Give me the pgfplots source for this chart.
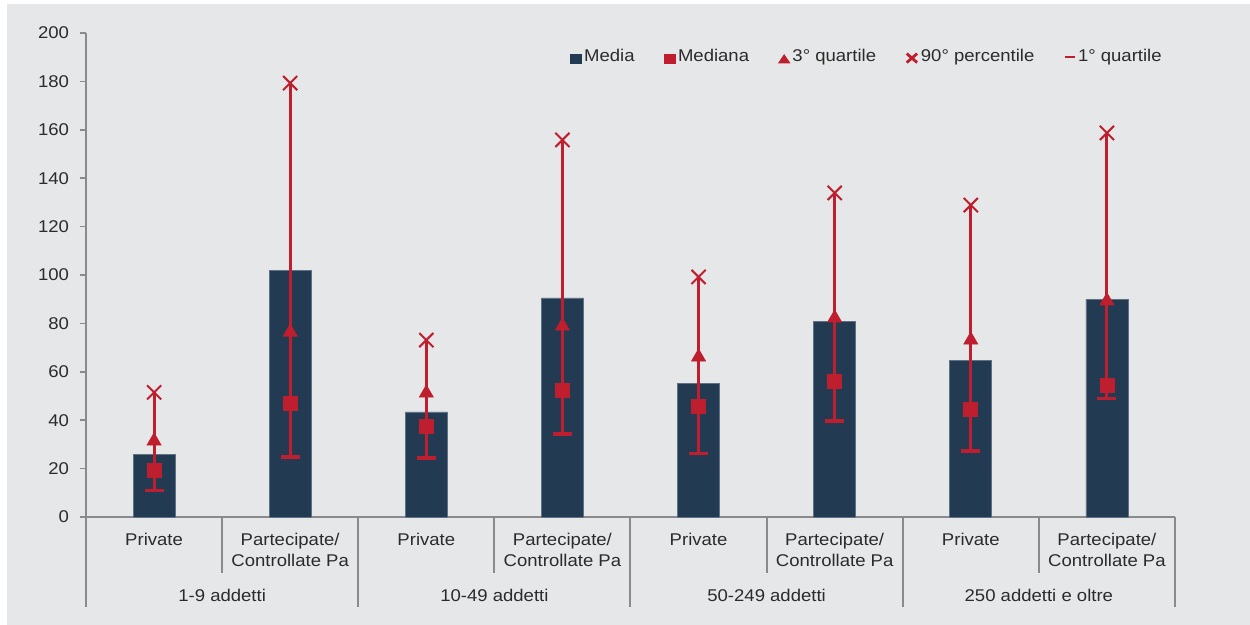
\documentclass[border=0pt]{standalone}
\usepackage{fontspec}
\setmainfont{Liberation Sans}[FakeStretch=1.09]
\usepackage{pgfplots}
\pgfplotsset{compat=1.18}
\definecolor{bg}{HTML}{E6E7E8}
\definecolor{navy}{HTML}{223A52}
\definecolor{navyedge}{HTML}{5E7185}
\definecolor{crim}{HTML}{BE1E2D}
\definecolor{axgray}{HTML}{8A8A8A}
\definecolor{txt}{HTML}{2B2B2B}
\newcommand{\lab}{\fontsize{8.5}{10.5}\selectfont\color{txt}}
\begin{document}
\begin{tikzpicture}
\fill[white] (0,0) rectangle (625pt,312.5pt);
\fill[bg] (3.5pt,0) rectangle (625pt,310.5pt);
\begin{axis}[
  at={(43pt,54pt)}, anchor=south west,
  width=544.5pt, height=242pt, scale only axis,
  xmin=-0.5, xmax=7.5, ymin=0, ymax=200,
  axis x line*=bottom, axis y line*=left,
  axis line style={-},
  x axis line style={draw=axgray, line width=1.1pt},
  y axis line style={draw=axgray, line width=0.8pt},
  ytick={0,20,...,200},
  tick align=outside,
  major tick length=2.8pt,
  ytick style={draw=axgray, line width=0.8pt},
  xtick=\empty,
  clip=false,
  /pgf/number format/assume math mode=true,
  yticklabel style={font=\lab, anchor=east, inner sep=0pt, xshift=-5.5pt},
  legend columns=-1,
  legend style={draw=none, fill=none, inner sep=0pt, outer sep=0pt,
    at={(rel axis cs:0.4444,0.950)}, anchor=west,
    font=\lab, text=txt,
    nodes={inner sep=0pt},
    /tikz/every odd column/.append style={column sep=1.2pt},
    /tikz/every even column/.append style={column sep=14.6pt}},
]
\addplot[ybar, bar width=21pt, fill=navy, draw=navyedge, line width=0.4pt,
  legend image code/.code={\fill[navy] (0pt,-2.9pt) rectangle (5.5pt,1.2pt);}]
  coordinates {(0,26) (1,101.7) (2,43.4) (3,90.5) (4,55) (5,80.7) (6,64.5) (7,90)};
\addlegendentry{Media}
\addplot[crim, line width=1.5pt, unbounded coords=jump, forget plot]
  coordinates {(0,10.8) (0,51.5) (0,nan)
               (1,24.8) (1,179) (1,nan)
               (2,24.4) (2,73) (2,nan)
               (3,34.3) (3,156) (3,nan)
               (4,26.4) (4,99.2) (4,nan)
               (5,39.7) (5,134) (5,nan)
               (6,27.3) (6,129) (6,nan)
               (7,48.8) (7,158.7)};
\addplot[only marks, mark=square*, mark size=3.5pt, color=crim,
  legend image code/.code={\fill[crim] (0pt,-2.9pt) rectangle (5.5pt,1.2pt);}]
  coordinates {(0,19.4) (1,47.1) (2,37.6) (3,52.5) (4,45.9) (5,56.2) (6,44.6) (7,54.5)};
\addlegendentry{Mediana}
\addplot[only marks, mark=triangle*, mark size=4pt, color=crim,
  legend image code/.code={\fill[crim] (0pt,-2.9pt) -- (5.5pt,-2.9pt) -- (2.75pt,1.2pt) -- cycle;}]
  coordinates {(0,31.4) (1,76.4) (2,51.2) (3,78.9) (4,66.1) (5,82.2) (6,73.1) (7,89.3)};
\addlegendentry{3° quartile}
\addplot[only marks, mark=x, mark size=5pt, color=crim, mark options={line width=1pt},
  legend image code/.code={\draw[crim, line width=1.4pt] (0.4pt,-2.7pt) -- (5.6pt,1.8pt) (0.4pt,1.8pt) -- (5.6pt,-2.7pt);}]
  coordinates {(0,51.5) (1,179.3) (2,73.1) (3,155.8) (4,99.2) (5,133.9) (6,128.9) (7,158.7)};
\addlegendentry{90° percentile}
\addplot[only marks, mark=-, mark size=4.75pt, color=crim, mark options={line width=1.6pt},
  legend image code/.code={\draw[crim, line width=1pt] (0pt,0pt) -- (5pt,0pt);}]
  coordinates {(0,10.8) (1,24.8) (2,24.4) (3,34.3) (4,26.4) (5,39.7) (6,27.3) (7,48.8)};
\addlegendentry{1° quartile}
% category separators
\pgfplotsinvokeforeach{0.5,2.5,4.5,6.5}{\draw[axgray, line width=1pt] (axis cs:#1,0) -- ([yshift=-28pt]axis cs:#1,0);}
\pgfplotsinvokeforeach{-0.5,1.5,3.5,5.5,7.5}{\draw[axgray, line width=1pt] (axis cs:#1,0) -- ([yshift=-45pt]axis cs:#1,0);}
% category labels
\pgfplotsinvokeforeach{0,2,4,6}{\node[anchor=base, inner sep=0pt, font=\lab] at ([yshift=-14.5pt]axis cs:#1,0) {Private};}
\pgfplotsinvokeforeach{1,3,5,7}{
  \node[anchor=base, inner sep=0pt, font=\lab] at ([yshift=-14.5pt]axis cs:#1,0) {Partecipate/};
  \node[anchor=base, inner sep=0pt, font=\lab] at ([yshift=-25pt]axis cs:#1,0) {Controllate Pa};}
\node[anchor=base, inner sep=0pt, font=\lab] at ([yshift=-42.5pt]axis cs:0.5,0) {1-9 addetti};
\node[anchor=base, inner sep=0pt, font=\lab] at ([yshift=-42.5pt]axis cs:2.5,0) {10-49 addetti};
\node[anchor=base, inner sep=0pt, font=\lab] at ([yshift=-42.5pt]axis cs:4.5,0) {50-249 addetti};
\node[anchor=base, inner sep=0pt, font=\lab] at ([yshift=-42.5pt]axis cs:6.5,0) {250 addetti e oltre};
\end{axis}
\end{tikzpicture}
\end{document}
